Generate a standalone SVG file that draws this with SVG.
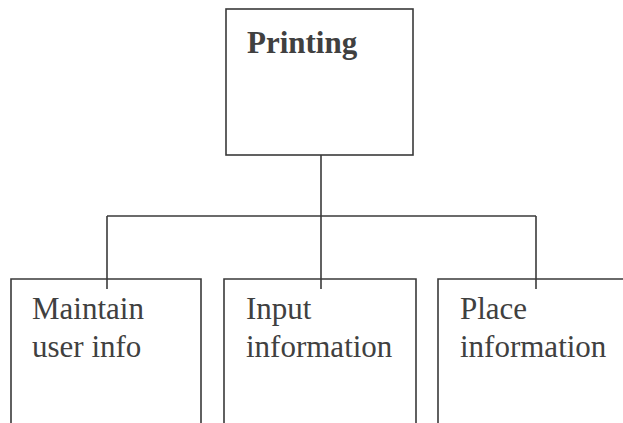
<svg xmlns="http://www.w3.org/2000/svg" width="623" height="423" viewBox="0 0 623 423">
  <style>
    .box { fill: none; stroke: #3a3a3a; stroke-width: 1.6; }
    .wire { fill: none; stroke: #3a3a3a; stroke-width: 1.6; }
    .lbl { font-family: "Liberation Serif", "DejaVu Serif", serif; font-size: 31px; fill: #404040; }
    .title { font-weight: bold; }
  </style>
  <rect width="623" height="423" fill="#ffffff"/>

  <g id="connectors">
    <path class="wire" d="M321 155 V289"/>
    <path class="wire" d="M107 216 H536"/>
    <path class="wire" d="M107 216 V289"/>
    <path class="wire" d="M536 216 V289"/>
  </g>

  <g id="printing">
    <rect class="box" x="226" y="9" width="187" height="146"/>
    <text class="lbl title" x="247" y="53">Printing</text>
  </g>

  <g id="maintain-user-info">
    <path class="box" d="M11 424 V279 H201 V424"/>
    <text class="lbl" x="32" y="319">Maintain</text>
    <text class="lbl" x="32" y="357">user info</text>
  </g>

  <g id="input-information">
    <path class="box" d="M224 424 V279 H416 V424"/>
    <text class="lbl" x="246" y="319">Input</text>
    <text class="lbl" x="246" y="357">information</text>
  </g>

  <g id="place-information">
    <path class="box" d="M438 424 V279 H624"/>
    <text class="lbl" x="460" y="319">Place</text>
    <text class="lbl" x="460" y="357">information</text>
  </g>
</svg>
